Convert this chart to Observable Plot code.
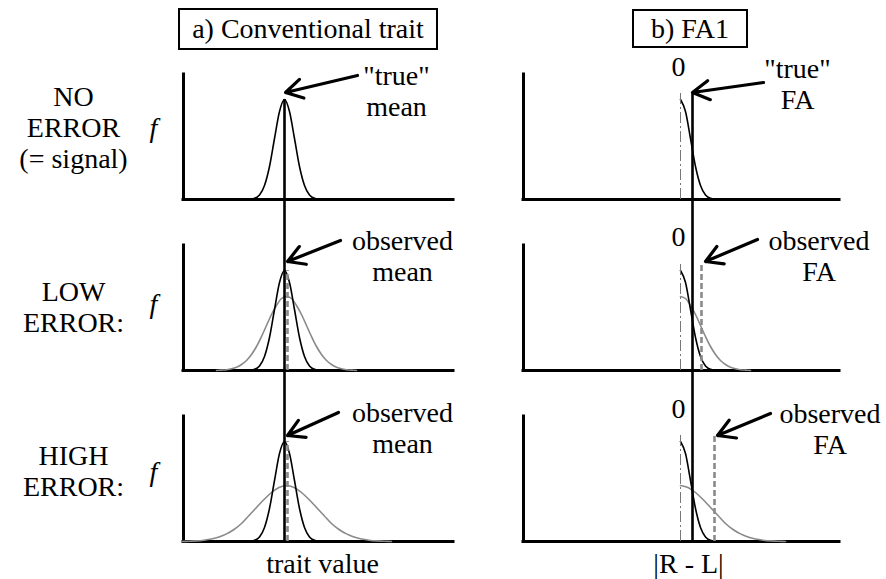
<!DOCTYPE html>
<html>
<head>
<meta charset="utf-8">
<script src="https://cdn.jsdelivr.net/npm/d3@7"></script>
<script src="https://cdn.jsdelivr.net/npm/@observablehq/plot@0.6"></script>
<style>
  body { margin: 0; background: #fff; }
  #root { position: relative; width: 886px; height: 579px; overflow: hidden;
          font-family: "Liberation Serif", Tinos, "Times New Roman", Times, "DejaVu Serif", serif; color: #000; }
  #root svg { position: absolute; top: 0; overflow: visible; }
  #root svg text { font-family: "Liberation Serif", Tinos, "Times New Roman", Times, "DejaVu Serif", serif; }
  .box { position: absolute; box-sizing: border-box; border: 2px solid #000;
         font-size: 28px; text-align: center; white-space: nowrap; background: #fff; }
</style>
</head>
<body>
<div id="root"></div>
<script>
// ---------------- data ----------------
const rowKeys = ["none", "low", "high"];
const rowLabels = ["NO\nERROR\n(= signal)", "LOW\nERROR:", "HIGH\nERROR:"];
const panelTitles = ["a) Conventional trait", "b) FA1"];
const axisTitles = ["trait value", "|R - L|"];
const annotA = ["\"true\"\nmean", "observed\nmean", "observed\nmean"];
const annotB = ["\"true\"\nFA", "observed\nFA", "observed\nFA"];
const zeroLabel = "0";
const fLabel = "f";

// density profiles: height (signal peak = 1) at a distance
// from the centre, in units of the signal SD
const blackDist   = [0, 0.5, 1, 1.5, 2, 2.5, 3, 3.5, 4];
const blackHeight = [1.00, 0.88, 0.61, 0.33, 0.14, 0.045, 0.012, 0.003, 0];
const lowDist     = [0, 0.5, 1, 1.5, 2, 2.5, 3, 3.5, 4, 4.5, 5, 5.5, 6, 6.5, 7];
const lowHeight   = [0.74, 0.72, 0.65, 0.56, 0.45, 0.34, 0.24, 0.16, 0.10, 0.06, 0.033, 0.017, 0.008, 0.004, 0];
const highDist    = [0, 0.75, 1.5, 2.25, 3, 3.75, 4.5, 5.25, 6, 6.75, 7.5, 8.25, 9, 9.75, 10.5];
const highHeight  = [0.56, 0.54, 0.49, 0.42, 0.34, 0.26, 0.18, 0.12, 0.076, 0.045, 0.025, 0.013, 0.006, 0.003, 0];

// means / FA values (signal SD units)
const trueMean = 0;
const observedMean = [null, 0.2, 0.2];
const trueFA = 1.2;
const observedFA = [null, 2.1, 3.4];

// ---------------- layout (annotation placement, data units) ----------------
const xDomA = [-10.1, 16.9];
const xDomB = [-15.7, 15.9];
const yDom = [0, 1.71];
const axisTop = 1.25;
const rowLabelPos = [[-21.1, 0.32], [-21.1, 0.39], [-21.1, 0.46]];
const fPos = [[-13.1, 0.71], [-13.1, 0.66], [-13.1, 0.69]];
const annotAPos = [[11.2, 0.84], [11.8, 0.90], [11.8, 0.89]];
const annotBPos = [[11.7, 0.91], [13.85, 0.90], [14.95, 0.88]];
const zeroPos = [[-0.2, 1.24], [-0.2, 1.25], [-0.2, 1.24]];
const arrowsAPos = [[7.3, 1.24, 0.1, 1.07], [5.6, 1.30, 0.3, 1.09], [5.4, 1.29, 0.3, 1.06]];
const arrowsBPos = [[8.3, 1.17, 1.2, 1.07], [7.7, 1.31, 2.5, 1.09], [9.0, 1.28, 3.7, 1.06]];
const xTitlePos = [[3.8, -0.31], [0.8, -0.31]];

const GRAY = "#8a8a8a";
const FONT = "'Liberation Serif', Tinos, 'Times New Roman', Times, 'DejaVu Serif', serif";

// ---------------- build tables ----------------
function fullCurve(dist, height, centre, row, series) {
  const pts = [];
  for (let i = dist.length - 1; i > 0; i--) pts.push({x: centre - dist[i], y: height[i], row, series});
  for (let i = 0; i < dist.length; i++) pts.push({x: centre + dist[i], y: height[i], row, series});
  return pts;
}
function halfCurve(dist, height, row, series) {
  return dist.map((d, i) => ({x: d, y: height[i], row, series}));
}

const blackA = rowKeys.flatMap(r => fullCurve(blackDist, blackHeight, trueMean, r, "signal-" + r));
const grayA = [
  ...fullCurve(lowDist, lowHeight, observedMean[1], "low", "low"),
  ...fullCurve(highDist, highHeight, observedMean[2], "high", "high")
];
const blackB = rowKeys.flatMap(r => halfCurve(blackDist, blackHeight, r, "signal-" + r));
const grayB = [
  ...halfCurve(lowDist, lowHeight, "low", "low"),
  ...halfCurve(highDist, highHeight, "high", "high")
];

const rowsTable = rowKeys.map((r, i) => ({row: r, i}));

function textTable(texts, pos) {
  return rowKeys.map((r, i) => ({row: r, text: texts[i], x: pos[i][0], y: pos[i][1]}));
}
function arrowTable(pos) {
  return rowKeys.map((r, i) => ({row: r, x1: pos[i][0], y1: pos[i][1], x2: pos[i][2], y2: pos[i][3]}));
}

function axesMarks(xDom) {
  return [
    Plot.ruleY(rowsTable, {fy: "row", y: () => 0, x1: () => xDom[0], x2: () => xDom[1],
      stroke: "#000", strokeWidth: 3, strokeLinecap: "square"}),
    Plot.ruleX(rowsTable, {fy: "row", x: () => xDom[0], y1: () => 0, y2: () => axisTop,
      stroke: "#000", strokeWidth: 3, strokeLinecap: "square"})
  ];
}

const common = {
  height: 579, marginTop: 28, marginBottom: 38,
  y: {domain: yDom, axis: null},
  fy: {domain: rowKeys, padding: 0, axis: null},
  style: {fontFamily: FONT, fontSize: "28px", background: "transparent", overflow: "visible", color: "#000"}
};

// ---------------- panel a ----------------
const plotA = Plot.plot({
  ...common,
  width: 470, marginLeft: 183, marginRight: 17,
  x: {domain: xDomA, axis: null},
  marks: [
    ...axesMarks(xDomA),
    Plot.line(grayA, {x: "x", y: "y", fy: "row", z: "series", stroke: GRAY, strokeWidth: 1.6, curve: "monotone-x"}),
    Plot.line(blackA, {x: "x", y: "y", fy: "row", z: "series", stroke: "#000", strokeWidth: 1.6, curve: "monotone-x"}),
    Plot.ruleX(rowsTable.filter(d => observedMean[d.i] != null), {
      fy: "row", x: d => observedMean[d.i] + 0.1, y1: () => 0, y2: () => 1.0,
      stroke: GRAY, strokeWidth: 2.6, strokeDasharray: "6,3"}),
    Plot.ruleX(rowsTable, {fy: "row", x: () => trueMean, y1: () => 0, y2: d => d.i === 0 ? 1.0 : yDom[1],
      stroke: "#000", strokeWidth: 2.6}),
    Plot.arrow(arrowTable(arrowsAPos), {fy: "row", x1: "x1", y1: "y1", x2: "x2", y2: "y2",
      stroke: "#000", strokeWidth: 3.2, headLength: 9}),
    Plot.text(textTable(annotA, annotAPos), {fy: "row", x: "x", y: "y", text: "text",
      lineAnchor: "bottom", lineHeight: 1.1, fontSize: 28, fill: "#000", fontFamily: FONT}),
    Plot.text(textTable(rowLabels, rowLabelPos), {fy: "row", x: "x", y: "y", text: "text",
      lineAnchor: "bottom", lineHeight: 1.1, fontSize: 28, fill: "#000", fontFamily: FONT}),
    Plot.text(textTable(rowKeys.map(() => fLabel), fPos), {fy: "row", x: "x", y: "y", text: "text",
      lineAnchor: "middle", fontSize: 28, fontStyle: "italic", fill: "#000", fontFamily: FONT}),
    Plot.text([{row: "high", text: axisTitles[0], x: xTitlePos[0][0], y: xTitlePos[0][1]}],
      {fy: "row", x: "x", y: "y", text: "text", lineAnchor: "bottom", fontSize: 28, fill: "#000", fontFamily: FONT})
  ]
});

// ---------------- panel b ----------------
const plotB = Plot.plot({
  ...common,
  width: 416, marginLeft: 53, marginRight: 47,
  x: {domain: xDomB, axis: null},
  marks: [
    ...axesMarks(xDomB),
    Plot.line(grayB, {x: "x", y: "y", fy: "row", z: "series", stroke: GRAY, strokeWidth: 1.6, curve: "monotone-x"}),
    Plot.line(blackB, {x: "x", y: "y", fy: "row", z: "series", stroke: "#000", strokeWidth: 1.6, curve: "monotone-x"}),
    Plot.ruleX(rowsTable, {fy: "row", x: () => 0, y1: () => 0, y2: () => 1.07,
      stroke: "#777", strokeWidth: 1, strokeDasharray: "11,3,2,3"}),
    Plot.ruleX(rowsTable.filter(d => observedFA[d.i] != null), {
      fy: "row", x: d => observedFA[d.i], y1: () => 0, y2: d => d.i === 1 ? 1.07 : 1.05,
      stroke: GRAY, strokeWidth: 2.6, strokeDasharray: "6,3"}),
    Plot.ruleX(rowsTable, {fy: "row", x: () => trueFA, y1: () => 0, y2: d => d.i === 0 ? 1.07 : yDom[1],
      stroke: "#000", strokeWidth: 2.6}),
    Plot.arrow(arrowTable(arrowsBPos), {fy: "row", x1: "x1", y1: "y1", x2: "x2", y2: "y2",
      stroke: "#000", strokeWidth: 3.2, headLength: 9}),
    Plot.text(textTable(annotB, annotBPos), {fy: "row", x: "x", y: "y", text: "text",
      lineAnchor: "bottom", lineHeight: 1.1, fontSize: 28, fill: "#000", fontFamily: FONT}),
    Plot.text(textTable(rowKeys.map(() => zeroLabel), zeroPos), {fy: "row", x: "x", y: "y", text: "text",
      lineAnchor: "bottom", fontSize: 28, fill: "#000", fontFamily: FONT}),
    Plot.text([{row: "high", text: axisTitles[1], x: xTitlePos[1][0], y: xTitlePos[1][1]}],
      {fy: "row", x: "x", y: "y", text: "text", lineAnchor: "bottom", fontSize: 28, fill: "#000", fontFamily: FONT})
  ]
});

const root = document.getElementById("root");
plotA.style.left = "0px";
plotB.style.left = "470px";
root.appendChild(plotA);
root.appendChild(plotB);

// title boxes
const boxes = [
  {left: 178, top: 8, width: 260, height: 42, lh: 38},
  {left: 632, top: 9, width: 116, height: 39, lh: 35}
];
boxes.forEach((b, i) => {
  const div = document.createElement("div");
  div.className = "box";
  div.style.left = b.left + "px";
  div.style.top = b.top + "px";
  div.style.width = b.width + "px";
  div.style.height = b.height + "px";
  div.style.lineHeight = b.lh + "px";
  div.textContent = panelTitles[i];
  root.appendChild(div);
});
</script>
</body>
</html>
